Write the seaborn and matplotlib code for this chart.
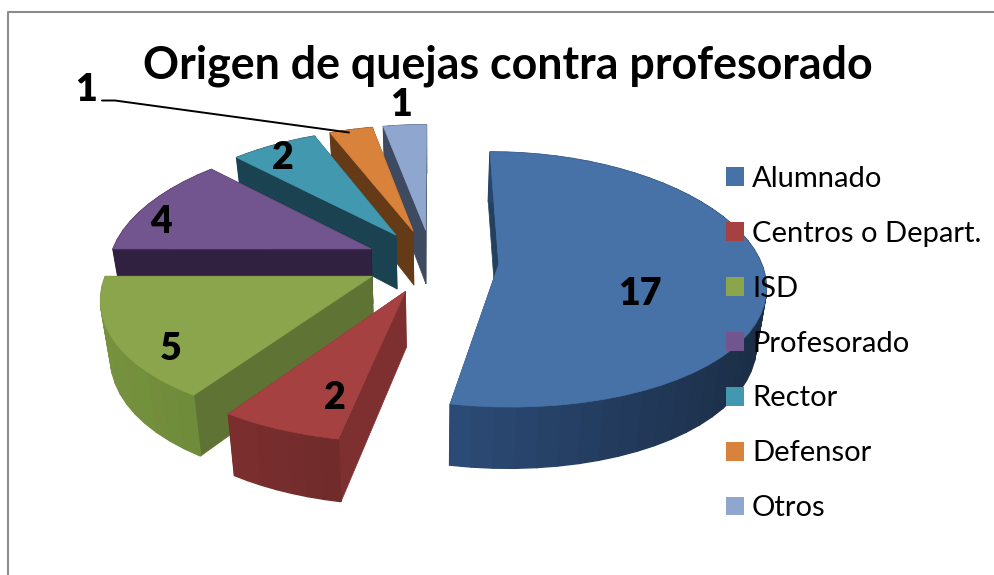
import numpy as np
import matplotlib
matplotlib.use("Agg")
import matplotlib.pyplot as plt
from matplotlib.patches import Patch
import seaborn as sns

# datos
categorias = ['Alumnado', 'Centros o Depart.', 'ISD', 'Profesorado', 'Rector', 'Defensor', 'Otros']
quejas = [17, 2, 5, 4, 2, 1, 1]

# colores de cada porcion: cara superior, pared, borde izquierdo y derecho
col_top = ['#4672a8', '#a54141', '#8aa54c', '#72548f', '#4298af', '#d9823b', '#8fa7cf']
col_wall = ['#24405f', '#7e2f2f', '#5f7434', '#2f213f', '#1a4250', '#653a17', '#3e4a60']
col_rim_a = ['#2b4a75', '#7a2e2e', '#76923f', '#2f213f', '#1a4250', '#653a17', '#3e4a60']
col_rim_b = ['#1b2d45', '#6d2a2a', '#6d8a3a', '#2f213f', '#1a4250', '#653a17', '#3e4a60']

# posicion de las etiquetas de valor (pixeles)
pos_etiquetas = [(640, 294), (335, 398), (171, 349), (161, 222), (283, 158), (86, 90), (401, 105)]

# proyeccion del pastel
CX, CY = 432, 261
RX, RY = 262, 125
KX, KY = 0.15, 0.12
EXPLODE = 0.255

sns.set_theme(style="white")
plt.rcParams['font.family'] = ['Lato', 'DejaVu Sans']


def proyectar(x, y):
    return CX + RX * x / (1 + KX * y), CY - RY * y / (1 + KY * y)


def bajar(sx, sy, y):
    # la base queda desplazada hacia abajo y un poco hacia el centro
    return CX + (sx - CX) * 0.97, sy + 55 / (1 + 0.1 * y)


fig, ax = plt.subplots(figsize=(9.95, 5.75), dpi=100)
fig.subplots_adjust(left=0, right=1, bottom=0, top=1)

# el pie da los angulos y centros de cada porcion
wedges, _ = ax.pie(quejas, explode=[EXPLODE] * len(quejas), startangle=90, counterclock=False)
geom = [(w.center, w.theta1, w.theta2) for w in wedges]
for w in wedges:
    w.remove()

ax.set_aspect('auto')
ax.set_xlim(0, 995)
ax.set_ylim(575, 0)
ax.set_axis_off()

# de atras hacia adelante
for i in range(len(quejas) - 1, -1, -1):
    (c_x, c_y), t1, t2 = geom[i]
    n = max(8, int((t2 - t1) / 4))
    ang = np.radians(np.linspace(t1, t2, n))
    wx = c_x + np.cos(ang)
    wy = c_y + np.sin(ang)
    sx, sy = proyectar(wx, wy)
    bx, by = bajar(sx, sy, wy)
    ax_, ay_ = proyectar(c_x, c_y)
    abx, aby = bajar(ax_, ay_, c_y)

    # paredes rectas
    for k in (0, -1):
        ax.fill([ax_, sx[k], bx[k], abx], [ay_, sy[k], by[k], aby],
                color=col_wall[i], lw=0.5, zorder=2)

    # borde curvo con degradado
    tonos = sns.blend_palette([col_rim_a[i], col_rim_b[i]], n)
    rango = max(sx.max() - sx.min(), 1)
    for j in range(n - 1):
        tono = tonos[int((sx[j] - sx.min()) / rango * (n - 1))]
        ax.fill([sx[j], sx[j + 1], bx[j + 1], bx[j]], [sy[j], sy[j + 1], by[j + 1], by[j]],
                color=tono, lw=1, zorder=2)

    # cara superior
    ax.fill(np.r_[ax_, sx], np.r_[ay_, sy], color=col_top[i], lw=0.5, zorder=2)

# marco de la imagen
ax.plot([8, 8, 995], [575, 12, 12], color='#8c8c8c', lw=1.5, zorder=1, clip_on=False)

# linea guia de Defensor
ax.plot([102, 115, 349], [100.5, 100.5, 132.5], color='black', lw=1.4, zorder=3)

# etiquetas de valor
for v, (x, y) in zip(quejas, pos_etiquetas):
    ax.text(x, y, str(v), ha='center', va='center', fontsize=27, fontweight=800,
            color='black', zorder=4)

ax.text(508, 66, 'Origen de quejas contra profesorado', ha='center', va='center',
        fontsize=32.2, fontweight='bold', color='black', zorder=4)

handles = [Patch(facecolor=c, edgecolor='none', label=n) for c, n in zip(col_top, categorias)]
ax.legend(handles=handles, loc='upper left', bbox_to_anchor=(726 / 995, 1 - 166 / 575),
          frameon=False, fontsize=21, labelspacing=0.99, handlelength=0.62, handleheight=0.62,
          handletextpad=0.27, borderpad=0, borderaxespad=0, labelcolor='black').set_zorder(5)

fig.savefig('out.png', dpi=100)
